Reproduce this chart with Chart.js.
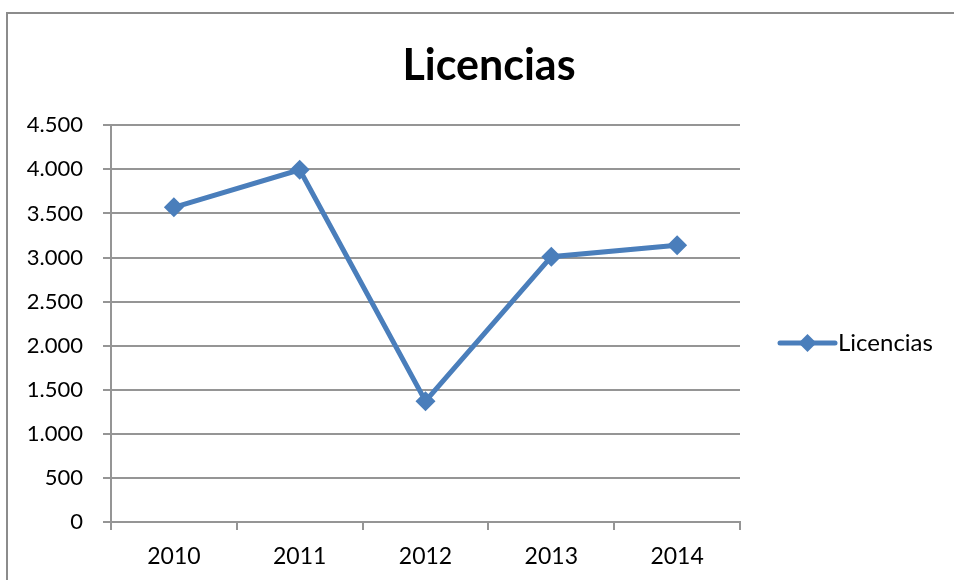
<!DOCTYPE html>
<html>
<head>
<meta charset="utf-8">
<script src="https://cdn.jsdelivr.net/npm/chart.js@4.4.1/dist/chart.umd.min.js"></script>
<style>
  body { margin: 0; background: #fff; }
  #wrap { position: relative; width: 954px; height: 580px; overflow: hidden; }
  #frame { position: absolute; left: 6px; top: 12px; width: 1000px; height: 1000px;
           border-left: 2px solid #8c8c8c; border-top: 2px solid #8c8c8c; }
  canvas { position: absolute; left: 0; top: 0; }
</style>
</head>
<body>
<div id="wrap">
  <div id="frame"></div>
  <canvas id="chart" width="954" height="580"></canvas>
</div>
<script>
// Chart data
const years = ['2010', '2011', '2012', '2013', '2014'];
const licencias = [3570, 3995, 1370, 3010, 3140];
const yMax = 4500;
const yStep = 500;

const lineColor = '#4a7ebb';
const gridColor = '#959595';
const font = 'Lato';

// 4500 -> "4.500"
function fmt(v) {
  return String(v).replace(/\B(?=(\d{3})+(?!\d))/g, '.');
}

// Excel style legend on the right: line + diamond + label
const sideLegend = {
  id: 'sideLegend',
  afterDraw(chart) {
    const ctx = chart.ctx;
    const ds = chart.data.datasets[0];
    const y = 343, x0 = 780, x1 = 835, cx = (x0 + x1) / 2, r = 9;
    ctx.save();
    ctx.strokeStyle = ds.borderColor;
    ctx.lineWidth = 5;
    ctx.lineCap = 'round';
    ctx.beginPath();
    ctx.moveTo(x0, y);
    ctx.lineTo(x1, y);
    ctx.stroke();
    ctx.fillStyle = ds.borderColor;
    ctx.beginPath();
    ctx.moveTo(cx - r, y);
    ctx.lineTo(cx, y - r);
    ctx.lineTo(cx + r, y);
    ctx.lineTo(cx, y + r);
    ctx.closePath();
    ctx.fill();
    ctx.fillStyle = '#000';
    ctx.font = '24px ' + font;
    ctx.textBaseline = 'middle';
    ctx.textAlign = 'left';
    ctx.fillText(ds.label, 838, y);
    ctx.restore();
  }
};

new Chart(document.getElementById('chart'), {
  type: 'line',
  data: {
    labels: years,
    datasets: [{
      label: 'Licencias',
      data: licencias,
      borderColor: lineColor,
      backgroundColor: lineColor,
      borderWidth: 5,
      pointStyle: 'rectRot',
      pointRadius: 10,
      pointBorderWidth: 0,
      tension: 0
    }]
  },
  options: {
    responsive: false,
    animation: false,
    // left padding shifts the title centre to match, the empty right axis keeps room for the legend
    layout: { padding: { left: 24, right: 0, top: 0, bottom: 0 } },
    plugins: {
      legend: { display: false },
      tooltip: { enabled: false },
      title: {
        display: true,
        text: 'Licencias',
        color: '#000',
        font: { family: font, size: 43, weight: 'bold', lineHeight: 1.2 },
        padding: { top: 40, bottom: 33.7 }
      }
    },
    scales: {
      x: {
        offset: true,
        grid: { offset: true, drawOnChartArea: false, drawTicks: true, tickLength: 8, color: gridColor, lineWidth: 2 },
        border: { color: gridColor, width: 2 },
        ticks: { color: '#000', font: { family: font, size: 23 }, padding: 13, maxRotation: 0 },
        afterFit(s) { s.height = 58; }
      },
      y: {
        min: 0,
        max: yMax,
        ticks: { stepSize: yStep, color: '#000', font: { family: font, size: 22 }, padding: 20, callback: v => fmt(v) },
        grid: { color: gridColor, lineWidth: 2, tickLength: 8 },
        border: { color: gridColor, width: 2 },
        afterFit(s) { s.width = 87; }
      },
      side: {
        position: 'right',
        display: true,
        grid: { display: false },
        border: { display: false },
        ticks: { display: false },
        afterFit(s) { s.width = 214; }
      }
    }
  },
  plugins: [sideLegend]
});
</script>
</body>
</html>
